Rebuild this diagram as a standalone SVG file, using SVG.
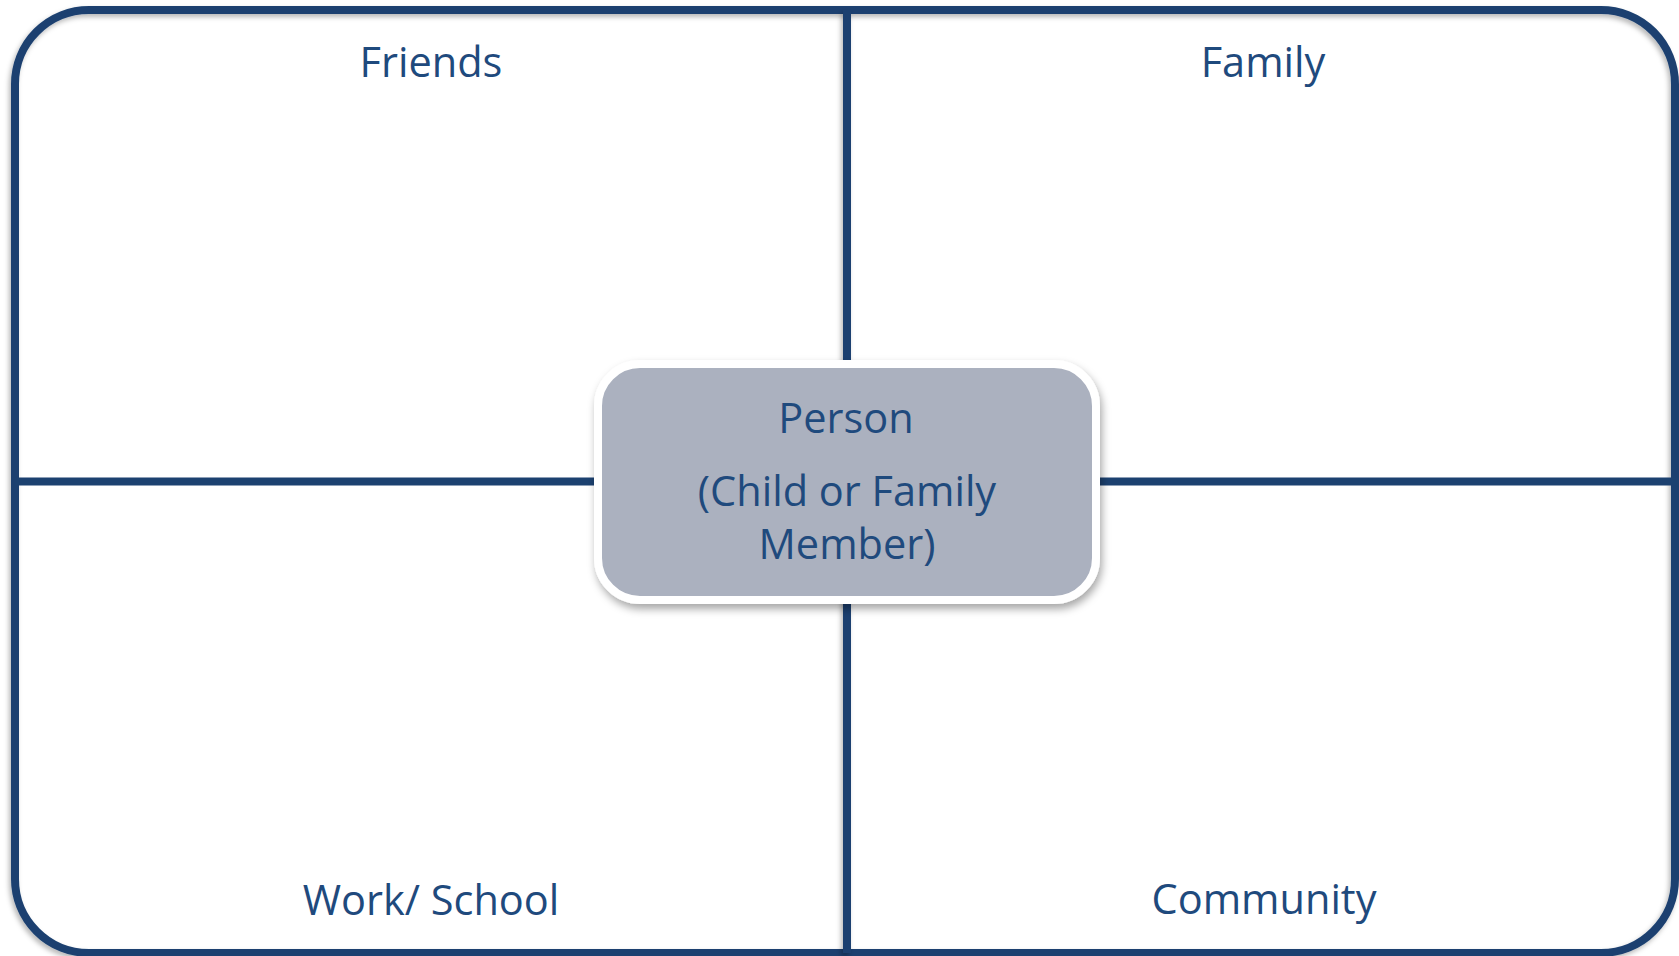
<svg xmlns="http://www.w3.org/2000/svg" width="1679" height="956" viewBox="0 0 1679 956">
  <defs>
    <filter id="soft-shadow" filterUnits="userSpaceOnUse" x="0" y="0" width="1679" height="956">
      <feDropShadow dx="-2" dy="3" stdDeviation="2.5" flood-color="#000" flood-opacity="0.28"/>
    </filter>
    <filter id="box-shadow" x="-10%" y="-10%" width="120%" height="130%">
      <feDropShadow dx="2" dy="5" stdDeviation="4" flood-color="#000" flood-opacity="0.35"/>
    </filter>
  </defs>
  <style>
    .rule { stroke: #1c4170; stroke-width: 8; fill: none; }
    .label { font-family: "Open Sans", "Liberation Sans", sans-serif; font-size: 41.5px; fill: #1f4a7d; text-anchor: middle; }
  </style>

  <rect width="1679" height="956" fill="#ffffff"/>

  <!-- outer frame -->
  <g id="frame">
    <rect class="rule" x="15" y="10" width="1660" height="943" rx="74" ry="74" filter="url(#soft-shadow)"/>
  </g>

  <!-- quadrant dividers -->
  <g id="connectors">
    <line class="rule" x1="847" y1="10" x2="847" y2="953" filter="url(#soft-shadow)"/>
    <line class="rule" x1="15" y1="481.5" x2="1679" y2="481.5" stroke-width="7"/>
  </g>

  <g id="friends">
    <text class="label" x="431" y="77">Friends</text>
  </g>
  <g id="family">
    <text class="label" x="1263" y="77">Family</text>
  </g>
  <g id="work-school">
    <text class="label" x="431" y="915">Work/ School</text>
  </g>
  <g id="community">
    <text class="label" x="1264" y="914">Community</text>
  </g>

  <!-- central person node -->
  <g id="person">
    <rect x="598" y="364" width="498" height="236" rx="42" ry="42" fill="#abb1bf" stroke="#ffffff" stroke-width="8" filter="url(#box-shadow)"/>
    <text class="label" x="846" y="433">Person</text>
    <text class="label" x="847" y="506">(Child or Family</text>
    <text class="label" x="847" y="559">Member)</text>
  </g>
</svg>
